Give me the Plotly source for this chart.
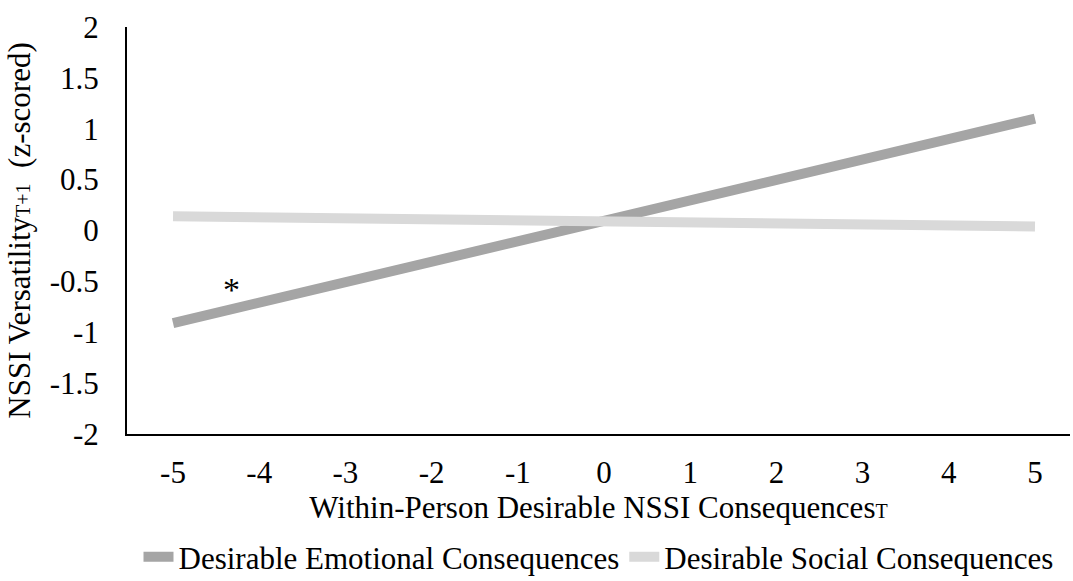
import plotly.graph_objects as go

# Simple slopes: predicted NSSI versatility at T+1 across within-person consequences
x_vals = [-5, 5]
emotional = [-0.91, 1.10]
social = [0.14, 0.04]
x_ticks = [-5, -4, -3, -2, -1, 0, 1, 2, 3, 4, 5]
y_ticks = [-2, -1.5, -1, -0.5, 0, 0.5, 1, 1.5, 2]

FONT = "Liberation Serif"
SIZE = 31

fig = go.Figure()
fig.add_trace(go.Scatter(
    x=x_vals, y=emotional, mode="lines",
    name="Desirable Emotional Consequences",
    line=dict(color="#A5A5A5", width=10),
))
fig.add_trace(go.Scatter(
    x=x_vals, y=social, mode="lines",
    name="Desirable Social Consequences",
    line=dict(color="#D9D9D9", width=10),
))

# significance marker for the emotional slope
fig.add_annotation(x=-4.32, y=-0.58, text="*", showarrow=False,
                   font=dict(family=FONT, size=34, color="black"))

fig.update_layout(
    width=1073, height=581,
    paper_bgcolor="white", plot_bgcolor="white",
    margin=dict(l=127, r=3, t=27, b=147, autoexpand=False),
    font=dict(family=FONT, size=SIZE, color="black"),
    showlegend=True,
    legend=dict(orientation="h", x=0.5, xanchor="center", y=-0.236, yanchor="top",
                font=dict(family=FONT, size=SIZE), itemwidth=30, tracegroupgap=0),
    xaxis=dict(
        range=[-5.534, 5.406], tickvals=x_ticks, ticktext=[str(v) for v in x_ticks],
        showgrid=False, zeroline=False, showline=True, linecolor="black", linewidth=2,
        ticks="", ticklabelstandoff=10, tickfont=dict(family=FONT, size=SIZE),
        title=dict(text="Within-Person Desirable NSSI Consequences<span style='font-size:20px'>T</span>",
                   standoff=4, font=dict(family=FONT, size=SIZE)),
    ),
    yaxis=dict(
        range=[-2, 2], tickvals=y_ticks, ticktext=[f"{v:g}" for v in y_ticks],
        showgrid=False, zeroline=False, showline=True, linecolor="black", linewidth=2,
        ticks="", ticklabelstandoff=20, tickfont=dict(family=FONT, size=SIZE),
        title=dict(text="NSSI Versatility<span style='font-size:20px'>T+1</span>  (z-scored)",
                   standoff=10, font=dict(family=FONT, size=SIZE)),
    ),
)

fig.write_html("out.html")
